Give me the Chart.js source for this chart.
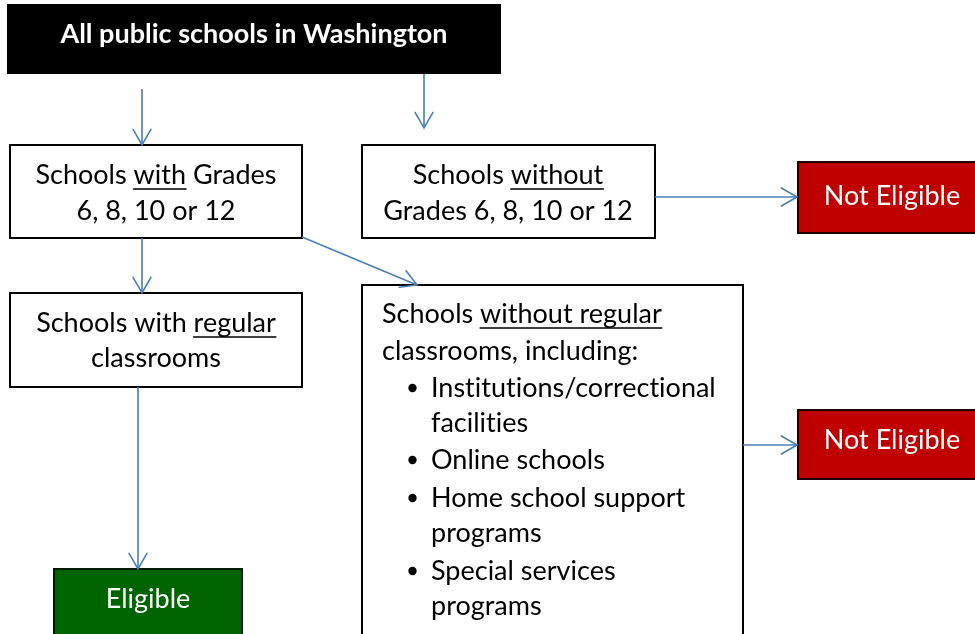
<!DOCTYPE html>
<html><head><meta charset="utf-8">
<script src="https://cdn.jsdelivr.net/npm/chart.js@4.4.0/dist/chart.umd.min.js"></script>
<style>html,body{margin:0;padding:0;background:#fff;overflow:hidden}canvas{display:block;font-variant-ligatures:none}</style>
</head><body>
<canvas id="c" width="975" height="634"></canvas>
<script>
// ---- content ----
const nodeText = [
  ["All public schools in Washington"],
  ["Schools _with_ Grades", "6, 8, 10 or 12"],
  ["Schools _without_", "Grades 6, 8, 10 or 12"],
  ["Schools with _regular_", "classrooms"],
  ["Schools _without regular_", "classrooms, including:"],
  ["Not Eligible"],
  ["Not Eligible"],
  ["Eligible"]
];
const nodeKind = ["header", "step", "step", "step", "list", "no", "no", "yes"];
const listItems = [
  ["Institutions/correctional", "facilities"],
  ["Online schools"],
  ["Home school support", "programs"],
  ["Special services", "programs"]
];
const edgeFrom = [0, 0, 1, 1, 2, 3, 4];
const edgeTo   = [1, 2, 3, 4, 5, 7, 6];

// ---- layout (data units on a 975 x 634 grid) ----
const boxRect = [[7,4,501,74],[10,145,302,238],[362,145,655,238],[10,293,302,387],[362,285,743,660],[798,162,990,233],[798,410,990,479],[54,569,242,660]];
const textX = [254, 156, 508, 156, 382, 892, 892, 148];
const textBase = [[43],[184,220],[184,220],[332,367],[323,360],[205],[449],[608]];
const listBase = [[397,432],[469],[507,542],[580,615]];
const listBulletX = 412.5, listTextX = 431;
const edgePts = [[142,89,142,145],[424,74,424,128],[142,238,142,293],[302,237,417,285],[655,197,797,197],[138,387,138,569],[743,445,797,445]];

// ---- styles ----
const FONT = 'Lato, "Open Sans", sans-serif';
const SIZE = 27;
const ARROW = '#4a7ebb';
const kindStyle = {
  header: {fill:'#000000', stroke:null, text:'#ffffff', bold:true},
  step:   {fill:'#ffffff', stroke:'#000000', text:'#000000', bold:false},
  list:   {fill:'#ffffff', stroke:'#000000', text:'#000000', bold:false},
  no:     {fill:'#c00000', stroke:'#1a0000', text:'#ffffff', bold:false},
  yes:    {fill:'#006400', stroke:'#001a00', text:'#ffffff', bold:false}
};

function drawRichLine(ctx, str, x, y, align, color){
  const parts = str.split('_');
  let total = 0;
  parts.forEach(p => total += ctx.measureText(p).width);
  let cx = align === 'center' ? x - total/2 : x;
  ctx.fillStyle = color; ctx.strokeStyle = color; ctx.lineWidth = 1.6;
  parts.forEach((p, i) => {
    const w = ctx.measureText(p).width;
    ctx.fillText(p, cx, y);
    if (i % 2 === 1) {
      ctx.beginPath(); ctx.moveTo(cx, y + 5); ctx.lineTo(cx + w, y + 5); ctx.stroke();
    }
    cx += w;
  });
}

const flowPlugin = {
  id: 'flow',
  beforeDatasetsDraw(chart){
    const {ctx, scales:{x, y}} = chart;
    ctx.save();
    boxRect.forEach((r, i) => {
      const st = kindStyle[nodeKind[i]];
      const x0 = x.getPixelForValue(r[0]), x1 = x.getPixelForValue(r[2]);
      const y0 = y.getPixelForValue(r[1]), y1 = y.getPixelForValue(r[3]);
      ctx.fillStyle = st.fill;
      ctx.fillRect(x0, y0, x1 - x0, y1 - y0);
      if (st.stroke){ ctx.strokeStyle = st.stroke; ctx.lineWidth = 2; ctx.strokeRect(x0, y0, x1 - x0, y1 - y0); }
    });
    ctx.restore();
  },
  afterDatasetsDraw(chart){
    const {ctx, scales:{x, y}} = chart;
    ctx.save();
    // arrowheads
    ctx.strokeStyle = ARROW; ctx.lineWidth = 1.6; ctx.lineCap = 'round';
    edgePts.forEach(e => {
      const ax = x.getPixelForValue(e[0]), ay = y.getPixelForValue(e[1]);
      const bx = x.getPixelForValue(e[2]), by = y.getPixelForValue(e[3]);
      const ang = Math.atan2(by - ay, bx - ax), L = 18, s = 0.52;
      ctx.beginPath();
      ctx.moveTo(bx - L*Math.cos(ang - s), by - L*Math.sin(ang - s));
      ctx.lineTo(bx, by);
      ctx.lineTo(bx - L*Math.cos(ang + s), by - L*Math.sin(ang + s));
      ctx.stroke();
    });
    // texts
    if ('textRendering' in ctx) ctx.textRendering = 'optimizeSpeed';
    ctx.textBaseline = 'alphabetic';
    nodeText.forEach((lines, i) => {
      const st = kindStyle[nodeKind[i]];
      ctx.font = (st.bold ? 'bold ' : '') + SIZE + 'px ' + FONT;
      ctx.textAlign = 'left';
      const align = nodeKind[i] === 'list' ? 'left' : 'center';
      lines.forEach((ln, j) => drawRichLine(ctx, ln, x.getPixelForValue(textX[i]), y.getPixelForValue(textBase[i][j]), align, st.text));
    });
    ctx.font = SIZE + 'px ' + FONT;
    listItems.forEach((item, i) => {
      const by = y.getPixelForValue(listBase[i][0]);
      ctx.fillStyle = '#000';
      ctx.beginPath(); ctx.arc(x.getPixelForValue(listBulletX), by - 9, 4.2, 0, Math.PI*2); ctx.fill();
      item.forEach((ln, j) => drawRichLine(ctx, ln, x.getPixelForValue(listTextX), y.getPixelForValue(listBase[i][j]), 'left', '#000'));
    });
    ctx.restore();
  }
};

const datasets = edgeFrom.map((f, k) => ({
  label: 'edge ' + f + '-' + edgeTo[k],
  data: [{x: edgePts[k][0], y: edgePts[k][1]}, {x: edgePts[k][2], y: edgePts[k][3]}],
  showLine: true, borderColor: ARROW, borderWidth: 1.6, pointRadius: 0, fill: false
}));

new Chart(document.getElementById('c'), {
  type: 'scatter',
  data: {datasets},
  options: {
    responsive: false, animation: false, devicePixelRatio: 1,
    events: [],
    layout: {padding: 0},
    plugins: {legend: {display: false}, tooltip: {enabled: false}},
    scales: {
      x: {type: 'linear', min: 0, max: 975, display: false},
      y: {type: 'linear', min: 0, max: 634, reverse: true, display: false}
    }
  },
  plugins: [flowPlugin]
});
</script>
</body></html>
